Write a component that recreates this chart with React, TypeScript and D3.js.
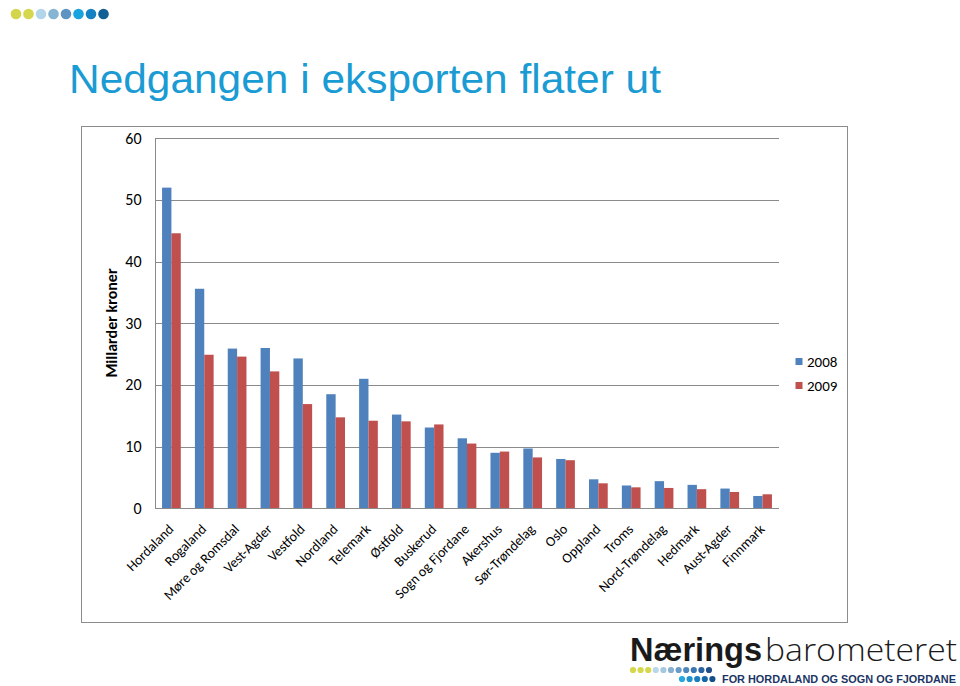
import React from 'react';
import * as d3 from 'd3';

const categories = ['Hordaland','Rogaland','Møre og Romsdal','Vest-Agder','Vestfold','Nordland','Telemark','Østfold','Buskerud','Sogn og Fjordane','Akershus','Sør-Trøndelag','Oslo','Oppland','Troms','Nord-Trøndelag','Hedmark','Aust-Agder','Finnmark'];
const values2008 = [52.0,35.6,25.9,26.0,24.3,18.5,21.0,15.2,13.1,11.35,9.0,9.7,8.0,4.7,3.7,4.4,3.8,3.2,2.0];
const values2009 = [44.6,24.9,24.6,22.2,16.9,14.75,14.2,14.1,13.6,10.5,9.2,8.25,7.8,4.05,3.4,3.3,3.1,2.65,2.27];
const seriesNames = ['2008','2009'];
const seriesColors = ['#4f81bd','#c0504d'];
const yTicks = [0,10,20,30,40,50,60];
const headerDotColors = ['#d3d64a','#d5d74e','#b3d5ea','#86b4d2','#5f93c1','#18a5df','#1582c3','#115f95'];
const logoRow1 = ['#d5d84a','#d5d84a','#d5d84a','#b9d7ea','#a3c8e0','#86afd0','#6a9ac6','#4f87bd','#3a76b3','#2b63a0','#1f4f86'];
const logoRow2 = ['#25a7df','#1d92d1','#1a7dbf','#1667a8','#134f88'];

const FONT = 'Carlito, Calibri, Lato, sans-serif';

export default function App() {
  const plotL = 155, plotR = 779, plotT = 138.3, plotB = 508.3;
  const x = d3.scaleBand<string>().domain(categories).range([plotL, plotR]).paddingInner(0.43).paddingOuter(0.215);
  const xs = d3.scaleBand<string>().domain(seriesNames).range([0, x.bandwidth()]);
  const y = d3.scaleLinear().domain([0, 60]).range([plotB, plotT]);
  const series = [values2008, values2009];

  return (
    <svg width={960} height={686} style={{ position: 'absolute', left: 0, top: 0, background: '#fff' }} fontFamily={FONT}>
      <rect x={0} y={0} width={960} height={686} fill="#fff" />
      {headerDotColors.map((c, i) => (
        <circle key={i} cx={16 + i * 12.5} cy={14} r={5.3} fill={c} />
      ))}
      <text x={69} y={92.5} fontFamily="'Liberation Sans', Arial, sans-serif" fontSize={40} fill="#1b9bd3" textLength={592} lengthAdjust="spacingAndGlyphs">Nedgangen i eksporten flater ut</text>

      <rect x={81.5} y={126.5} width={766} height={496} fill="#fff" stroke="#8c8c8c" strokeWidth={1} />

      {yTicks.map(t => (
        <g key={t}>
          {t > 0 && <line x1={plotL} x2={plotR} y1={Math.round(y(t)) + 0.5} y2={Math.round(y(t)) + 0.5} stroke="#8a8a8a" strokeWidth={1} />}
          <text x={141.5} y={y(t) + 5.5} textAnchor="end" fontSize={16} fill="#000">{t}</text>
        </g>
      ))}
      <line x1={plotL + 0.5} x2={plotL + 0.5} y1={plotT} y2={plotB} stroke="#8a8a8a" />

      {categories.map((c, i) => (
        <g key={c}>
          {series.map((vals, s) => (
            <rect key={s} x={(x(c) as number) + (xs(seriesNames[s]) as number)} y={y(vals[i])} width={xs.bandwidth()} height={plotB - y(vals[i])} fill={seriesColors[s]} />
          ))}
        </g>
      ))}
      <line x1={plotL} x2={plotR} y1={Math.round(plotB) + 0.5} y2={Math.round(plotB) + 0.5} stroke="#8a8a8a" />

      {categories.map(c => {
        const cx = (x(c) as number) + x.bandwidth() / 2 + 3;
        return (
          <text key={c} transform={`translate(${cx},530) rotate(-45)`} textAnchor="end" fontSize={14} fill="#000">{c}</text>
        );
      })}

      <text transform="translate(117,323) rotate(-90)" textAnchor="middle" fontSize={16} fontWeight="bold" fill="#000">Millarder kroner</text>

      {seriesNames.map((n, i) => (
        <g key={n}>
          <rect x={795.5} y={358 + i * 24} width={7} height={7} fill={seriesColors[i]} />
          <text x={807} y={367 + i * 24} fontSize={15} fill="#000">{n}</text>
        </g>
      ))}

      <text x={630} y={661} fontFamily="'Liberation Sans', Arial, sans-serif" fontWeight="bold" fontSize={32.5} fill="#1a1a1a" textLength={132} lengthAdjust="spacingAndGlyphs">Nærings</text>
      <text x={765} y={661} fontFamily="'Open Sans', sans-serif" fontWeight={300} fontSize={32} fill="#1a1a1a" textLength={192} lengthAdjust="spacingAndGlyphs">barometeret</text>
      {logoRow1.map((c, i) => (
        <circle key={i} cx={633 + i * 7.6} cy={670} r={3.1} fill={c} />
      ))}
      {logoRow2.map((c, i) => (
        <circle key={i} cx={682 + i * 7.6} cy={679} r={3.1} fill={c} />
      ))}
      <text x={722} y={682.5} fontFamily="'Liberation Sans', Arial, sans-serif" fontWeight="bold" fontSize={11} fill="#1b3564" textLength={234} lengthAdjust="spacingAndGlyphs">FOR HORDALAND OG SOGN OG FJORDANE</text>
    </svg>
  );
}
